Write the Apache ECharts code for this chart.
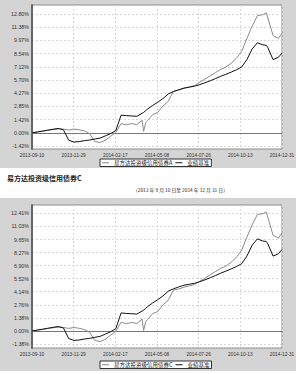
<!DOCTYPE html>
<html><head><meta charset="utf-8">
<script src="https://cdn.jsdelivr.net/npm/echarts@6/dist/echarts.min.js"></script>
<style>html,body{margin:0;padding:0;background:#fff}#c{width:300px;height:374px}</style>
</head><body><div id="c"></div>
<script>
const dates = ['2013-09-10','2013-09-20','2013-09-30','2013-10-10','2013-10-20','2013-10-30','2013-11-09','2013-11-19','2013-11-29','2013-12-09',
'2013-12-19','2013-12-29','2014-01-08','2014-01-18','2014-01-28','2014-02-07','2014-02-17','2014-02-27','2014-03-09','2014-03-19',
'2014-03-29','2014-04-08','2014-04-11','2014-04-15','2014-04-18','2014-04-28','2014-05-08','2014-05-18','2014-05-28','2014-06-07',
'2014-06-17','2014-06-27','2014-07-07','2014-07-17','2014-07-27','2014-08-06','2014-08-16','2014-08-26','2014-09-05','2014-09-15',
'2014-09-25','2014-10-05','2014-10-15','2014-10-25','2014-11-04','2014-11-14','2014-11-24','2014-12-01','2014-12-04','2014-12-14',
'2014-12-24','2014-12-31'];
const fundA = [0,0.1,0.18,0.28,0.35,0.42,0.4,0.3,0.4,0.32,
0.2,-0.1,-0.95,-1.05,-0.8,-0.38,0.05,1.0,0.85,1.0,
0.88,1.35,0.15,1.1,1.3,1.95,2.2,2.9,3.4,4.5,
4.6,4.8,4.95,5.1,5.45,5.8,6.15,6.5,6.85,7.1,
7.5,8.05,8.8,10.2,11.5,12.65,12.75,12.95,12.4,10.5,
10.2,10.75];
const fundC = [0,0.1,0.17,0.27,0.33,0.4,0.37,0.27,0.36,0.28,
0.15,-0.15,-1.0,-1.12,-0.87,-0.45,-0.03,0.92,0.76,0.9,
0.78,1.25,0.05,0.98,1.18,1.82,2.06,2.76,3.25,4.33,
4.43,4.62,4.76,4.9,5.24,5.58,5.93,6.27,6.6,6.85,
7.24,7.78,8.52,9.9,11.2,12.3,12.38,12.55,12.0,10.1,
9.8,10.35];
const benchmark = [0,0.08,0.18,0.28,0.38,0.47,0.32,-0.8,-1.0,-0.95,
-0.85,-0.78,-0.67,-0.57,-0.33,-0.09,0.25,1.9,1.85,1.82,
1.78,2.1,2.2,2.4,2.55,2.95,3.3,3.7,4.2,4.45,
4.65,4.83,4.93,5.03,5.2,5.4,5.62,5.85,6.1,6.32,
6.55,6.8,7.1,7.9,9.05,9.72,9.5,9.45,9.2,7.9,
8.15,8.6];
const xTickLabels = ['2013-09-10','2013-11-29','2014-02-17','2014-05-08','2014-07-26','2014-10-13','2014-12-31'];
const yTicksA = [-1.42,0,1.42,2.85,4.27,5.70,7.12,8.54,9.97,11.38,12.80];
const yTicksC = [-1.38,0,1.38,2.76,4.14,5.52,6.90,8.27,9.65,11.03,12.41];
const nameA = '易方达投资级信用债券A';
const nameC = '易方达投资级信用债券C';
const nameB = '业绩基准';
const titleC = '易方达投资级信用债券C';
const subTitle = '（2013 年 9 月 10 日至 2014 年 12 月 31 日）';

const t0 = Date.parse(dates[0]);
const days = dates.map(d => (Date.parse(d) - t0) / 86400000);
const span = days[days.length - 1];
const pairs = vals => vals.map((v, i) => [days[i], v]);

const CJK = '"Noto Sans CJK SC", sans-serif';
const NUM = '"Liberation Sans", "DejaVu Sans", sans-serif';

const grids = [
  {left: 32, top: 5, width: 250, height: 144},
  {left: 32, top: 205, width: 250, height: 143}
];
const yRanges = [{min: -1.75, max: 13.8, ticks: yTicksA}, {min: -1.8, max: 13.3, ticks: yTicksC}];

const chart = echarts.init(document.getElementById('c'), null, {renderer: 'svg'});
chart.setOption({
  animation: false,
  graphic: [
    {type: 'rect', z: -10, shape: {x: 0, y: 0, width: 296, height: 168}, style: {fill: '#d4d4d4'}},
    {type: 'rect', z: -10, shape: {x: 0, y: 198, width: 296, height: 173}, style: {fill: '#d4d4d4'}},
    {type: 'text', left: 7, top: 174, style: {text: titleC, font: 'bold 7px ' + CJK, fill: '#222'}},
    {type: 'text', left: 133, top: 187, style: {text: subTitle, font: '4.8px ' + CJK, fill: '#222'}}
  ],
  grid: grids.map(g => Object.assign({show: true, backgroundColor: '#fff', borderColor: '#8c8c8c', borderWidth: 1}, g)),
  legend: [
    {data: [nameA, nameB], left: 100, top: 159},
    {data: [nameC, nameB], left: 100, top: 361}
  ].map(l => Object.assign({
    orient: 'horizontal', icon: 'rect', itemWidth: 7, itemHeight: 1, itemGap: 3,
    textStyle: {fontSize: 5.5, color: '#222', fontFamily: CJK},
    backgroundColor: '#fff', borderColor: '#333', borderWidth: 1, padding: [1, 2],
    selectedMode: false
  }, l)),
  xAxis: [0, 1].map(i => ({
    type: 'value', gridIndex: i, min: 0, max: span, interval: span / 6,
    axisLabel: {formatter: v => xTickLabels[Math.round(v / (span / 6))], fontSize: 4.8, color: '#333',
      fontFamily: NUM, margin: 4, showMinLabel: true, showMaxLabel: true},
    axisTick: {show: false},
    axisLine: {lineStyle: {color: '#777', width: 1}},
    splitLine: {show: true, lineStyle: {type: [2, 2], color: '#d8d8d8', width: 1}}
  })),
  yAxis: [0, 1].map(i => ({
    type: 'value', gridIndex: i, min: yRanges[i].min, max: yRanges[i].max,
    axisLabel: {customValues: yRanges[i].ticks, formatter: v => v.toFixed(2) + '%', fontSize: 5.3,
      color: '#333', fontFamily: NUM, margin: 3},
    axisTick: {show: false, customValues: yRanges[i].ticks},
    axisLine: {show: true, lineStyle: {color: '#666', width: 2}},
    splitLine: {show: true, lineStyle: {type: [2, 2], color: '#d8d8d8', width: 1}}
  })),
  series: [
    {name: nameA, type: 'line', xAxisIndex: 0, yAxisIndex: 0, data: pairs(fundA), showSymbol: false, lineStyle: {width: 1, color: '#8a8a8a'}, itemStyle: {color: '#8a8a8a'}},
    {name: nameB, type: 'line', xAxisIndex: 0, yAxisIndex: 0, data: pairs(benchmark), showSymbol: false, lineStyle: {width: 1, color: '#111'}, itemStyle: {color: '#111'}},
    {name: nameC, type: 'line', xAxisIndex: 1, yAxisIndex: 1, data: pairs(fundC), showSymbol: false, lineStyle: {width: 1, color: '#8a8a8a'}, itemStyle: {color: '#8a8a8a'}},
    {name: nameB, type: 'line', xAxisIndex: 1, yAxisIndex: 1, data: pairs(benchmark), showSymbol: false, lineStyle: {width: 1, color: '#111'}, itemStyle: {color: '#111'}}
  ]
});
</script></body></html>
